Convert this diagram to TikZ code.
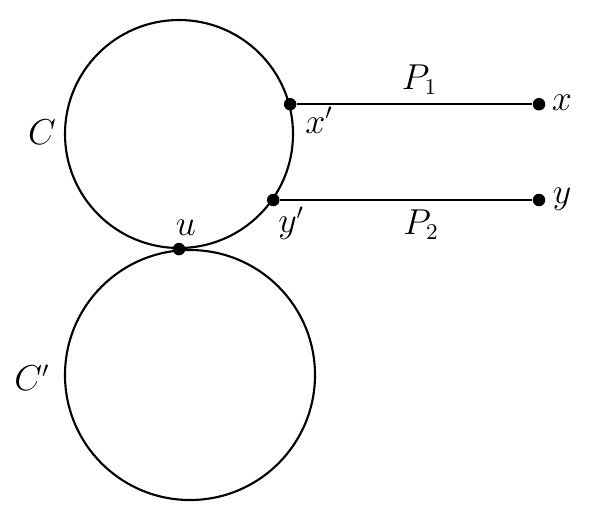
\documentclass[tikz,border=0pt]{standalone}
\usepackage{amsmath}
\usepackage{tikz}
\usetikzlibrary{positioning,calc}

\begin{document}
\begin{tikzpicture}[x=0.4pt,y=-0.4pt,font=\fontsize{13.5}{16}\selectfont,
  ring/.style={circle,draw,line width=0.85pt,inner sep=0pt},
  dot/.style={circle,fill,inner sep=0pt,minimum size=5pt},
  path/.style={line width=0.85pt},
  lab/.style={inner sep=0pt}]
\useasboundingbox (0,0) rectangle (592,522);
% the two cycles
\node[ring,minimum size=91.2pt] (C)  at (179,134) {};
\node[ring,minimum size=100pt]  (Cp) at (190,375) {};
\node[lab] at (42,132) {$C$};
\node[lab] at (32,378) {$C'$};
% vertices
\coordinate (end) at (539,0);
\node[dot] (xp) at (C.15.8) {};
\node[dot] (yp) at (C.-35) {};
\node[dot] (u)  at (C.south) {};
\node[dot] (x)  at (xp -| end) {};
\node[dot] (y)  at (yp -| end) {};
\node[lab] at ($(xp)+(29,16)$) {$x'$};
\node[lab] at ($(yp)+(18,23)$) {$y'$};
\node[lab] at ($(u)+(7,-21)$) {$u$};
\node[lab] at ($(x)+(23,-1)$) {$x$};
\node[lab] at ($(y)+(23,-1)$) {$y$};
% the two paths
\draw[path] (xp) -- node[lab,above=3.5pt,xshift=2pt] {$P_1$} (x);
\draw[path] (yp) -- node[lab,below=3.5pt,xshift=6pt] {$P_2$} (y);
\end{tikzpicture}
\end{document}
